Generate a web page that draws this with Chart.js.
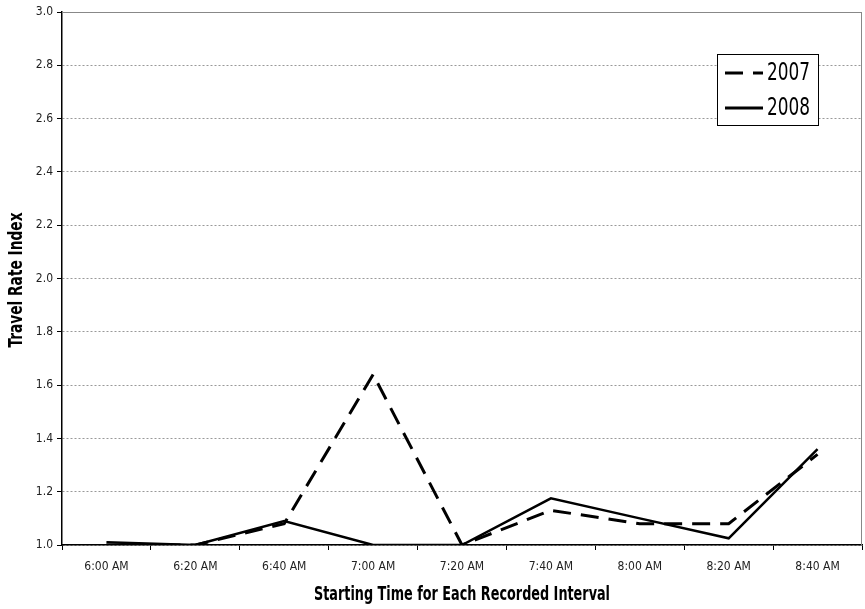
<!DOCTYPE html>
<html>
<head>
<meta charset="utf-8">
<script src="https://cdn.jsdelivr.net/npm/chart.js@4/dist/chart.umd.min.js"></script>
<style>
html,body{margin:0;padding:0;background:#fff;}
#wrap{width:865px;height:609px;position:relative;}
</style>
</head>
<body>
<div id="wrap"><canvas id="c" width="865" height="609"></canvas></div>
<script>
const categories = ["6:00 AM","6:20 AM","6:40 AM","7:00 AM","7:20 AM","7:40 AM","8:00 AM","8:20 AM","8:40 AM"];
const series2007 = [1.00, 1.00, 1.08, 1.64, 1.00, 1.13, 1.08, 1.08, 1.34];
const series2008 = [1.01, 1.00, 1.09, 1.00, 1.00, 1.175, 1.10, 1.025, 1.36];
const seriesNames = ["2007","2008"];
const yTicks = [1.0,1.2,1.4,1.6,1.8,2.0,2.2,2.4,2.6,2.8,3.0];
const xTitle = 'Starting Time for Each Recorded Interval';
const yTitle = 'Travel Rate Index';

const FONT = '"DejaVu Sans Condensed","Liberation Sans Narrow",sans-serif';

function narrowText(ctx, text, x, y, font, targetW, rot){
  ctx.save();
  ctx.font = font;
  const w = ctx.measureText(text).width;
  const sx = targetW / w;
  ctx.translate(x, y);
  if (rot) ctx.rotate(rot);
  ctx.scale(sx, 1);
  ctx.fillText(text, 0, 0);
  ctx.restore();
}

const frame = {
  id:'frame',
  afterDraw(chart){
    const {ctx, chartArea:a} = chart;
    ctx.save();
    ctx.strokeStyle = '#888';
    ctx.lineWidth = 1;
    ctx.beginPath();
    ctx.moveTo(a.left, a.top+0.5); ctx.lineTo(a.right, a.top+0.5);
    ctx.moveTo(a.right-0.5, a.top); ctx.lineTo(a.right-0.5, a.bottom);
    ctx.stroke();
    // axis titles
    ctx.fillStyle = '#000';
    ctx.textBaseline = 'middle';
    ctx.textAlign = 'center';
    narrowText(ctx, xTitle, (a.left+a.right)/2, 595, 'bold 20px ' + FONT, 296, 0);
    narrowText(ctx, yTitle, 17, 280, 'bold 20px ' + FONT, 135, -Math.PI/2);
    // legend box
    const bx=717, by=54, bw=101, bh=71;
    ctx.fillStyle='#fff';
    ctx.fillRect(bx,by,bw,bh);
    ctx.strokeStyle='#000';
    ctx.lineWidth=1;
    ctx.strokeRect(bx+0.5,by+0.5,bw,bh);
    chart.data.datasets.forEach((ds,i)=>{
      const y = by + 19 + i*35;
      ctx.strokeStyle='#000';
      ctx.lineWidth=3;
      ctx.setLineDash(ds.borderDash||[]);
      ctx.beginPath();
      ctx.moveTo(bx+8, y); ctx.lineTo(bx+46, y);
      ctx.stroke();
      ctx.setLineDash([]);
      ctx.fillStyle='#000';
      ctx.textBaseline='middle';
      ctx.textAlign='left';
      narrowText(ctx, ds.label, bx+50, y+1, '24px ' + FONT, 43, 0);
    });
    ctx.restore();
  }
};

new Chart(document.getElementById('c'), {
  type:'line',
  data:{
    labels: categories,
    datasets:[
      {label:seriesNames[0], data:series2007, borderColor:'#000', borderWidth:3, borderDash:[18,10], borderCapStyle:'butt', pointRadius:0, tension:0, fill:false},
      {label:seriesNames[1], data:series2008, borderColor:'#000', borderWidth:2.5, pointRadius:0, tension:0, fill:false}
    ]
  },
  options:{
    responsive:false,
    animation:false,
    layout:{padding:{left:0, top:12, right:3, bottom:0}},
    plugins:{legend:{display:false}, tooltip:{enabled:false}},
    scales:{
      x:{
        offset:true,
        grid:{offset:true, drawOnChartArea:false, drawTicks:true, tickLength:5, tickColor:'#000', tickWidth:1},
        border:{display:true, color:'#000', width:1.5},
        ticks:{color:'#222', font:{family:FONT, size:12}, padding:10, maxRotation:0, autoSkip:false},
        title:{display:false},
        afterFit(s){ s.height = 64; }
      },
      y:{
        min:1, max:3,
        afterBuildTicks(s){ s.ticks = yTicks.map(v=>({value:v})); },
        grid:{color:'#999', lineWidth:1, drawTicks:true, tickLength:5, tickColor:'#000', tickBorderDash:[]},
        border:{display:true, color:'#000', width:1.5, dash:[2,2]},
        ticks:{color:'#222', font:{family:FONT, size:12}, padding:4, callback:v=>Number(v).toFixed(1)},
        title:{display:false},
        afterFit(s){ s.width = 62; }
      }
    }
  },
  plugins:[frame]
});
</script>
</body>
</html>
